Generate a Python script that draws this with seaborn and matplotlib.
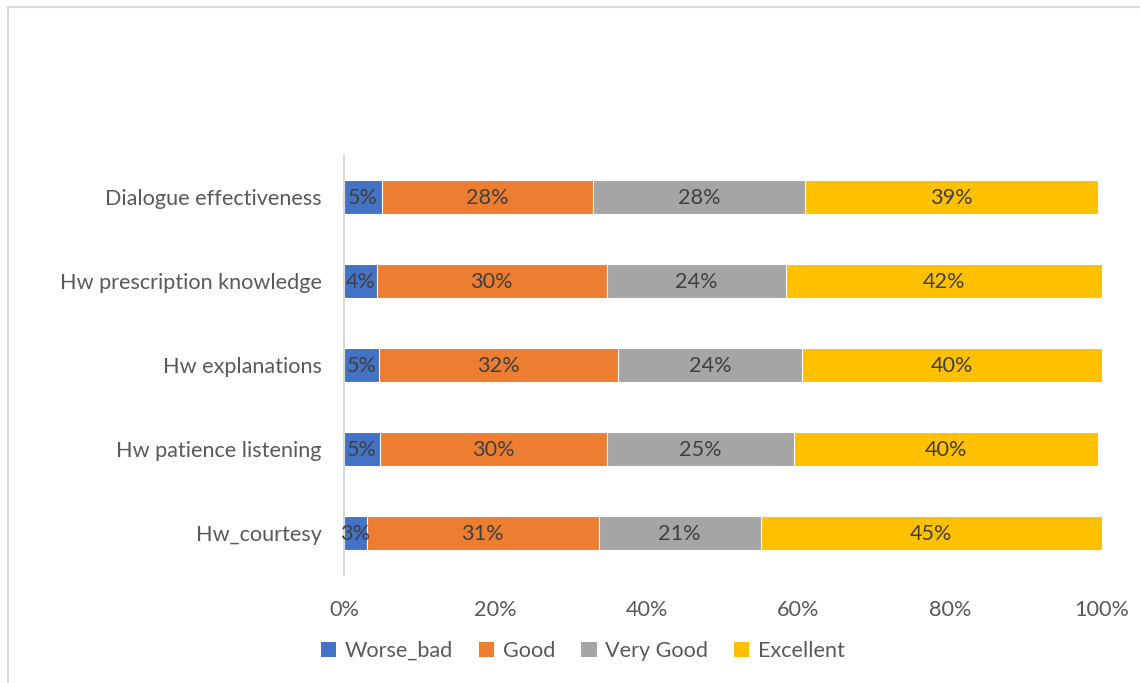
import numpy as np
import pandas as pd
import matplotlib
matplotlib.use("Agg")
import matplotlib.pyplot as plt
from matplotlib.patches import Patch
from matplotlib.lines import Line2D
import seaborn as sns

categories = ["Dialogue effectiveness", "Hw prescription knowledge", "Hw explanations",
              "Hw patience listening", "Hw_courtesy"]
ratings = ["Worse_bad", "Good", "Very Good", "Excellent"]
worse_bad = [0.050, 0.043, 0.046, 0.047, 0.030]
good = [0.279, 0.304, 0.316, 0.300, 0.306]
very_good = [0.280, 0.236, 0.242, 0.247, 0.214]
excellent = [0.386, 0.417, 0.396, 0.401, 0.450]
x_ticks = [0, 0.2, 0.4, 0.6, 0.8, 1.0]

colors = {"Worse_bad": "#4472C4", "Good": "#ED7D31", "Very Good": "#A5A5A5", "Excellent": "#FFC000"}

sns.set_theme(style="white")
plt.rcParams["font.family"] = ["Lato", "DejaVu Sans"]
FS = 15.6

series = {"Worse_bad": worse_bad, "Good": good, "Very Good": very_good, "Excellent": excellent}
rows = []
for i, cat in enumerate(categories):
    start = 0.0
    for r in ratings:
        v = series[r][i]
        rows.append({"category": cat, "rating": r, "value": v,
                     "start": start, "cum": start + v})
        start += v
df = pd.DataFrame(rows)

fig = plt.figure(figsize=(11.4, 6.83), dpi=100)
ax = fig.add_axes([344 / 1140, 1 - 575 / 683, (1101.5 - 344) / 1140, 420 / 683])

# stacked bars: cumulative totals drawn largest first, each covered by the next
sns.barplot(data=df, x="cum", y="category", hue="rating", hue_order=ratings[::-1],
            order=categories, palette=colors, saturation=1, dodge=False, orient="h",
            width=0.4, linewidth=0.8, edgecolor="white", legend=False, ax=ax)

for _, row in df.iterrows():
    yi = categories.index(row["category"])
    ax.text(row["start"] + row["value"] / 2, yi + 0.01, f"{row['value'] * 100:.0f}%",
            ha="center", va="center", fontsize=FS, color="#404040")

ax.set_xlim(0, 1.0)
ax.set_ylim(4.5, -0.5)
ax.set_xticks(x_ticks)
ax.set_xticklabels([f"{t * 100:.0f}%" for t in x_ticks])
ax.set_xlabel("")
ax.set_ylabel("")
ax.tick_params(axis="x", length=0, pad=18, labelsize=FS, labelcolor="#595959")
ax.tick_params(axis="y", length=0, pad=16, labelsize=FS, labelcolor="#595959")
for s in ["top", "right", "bottom"]:
    ax.spines[s].set_visible(False)
ax.spines["left"].set_color("#D9D9D9")
ax.spines["left"].set_linewidth(1.5)
ax.grid(False)

handles = [Patch(facecolor=colors[r], edgecolor="none") for r in ratings]
fig.legend(handles, ratings, loc="center", bbox_to_anchor=(583 / 1140, 1 - 651 / 683),
           ncol=4, frameon=False, fontsize=FS, handlelength=0.7, handleheight=0.7,
           handletextpad=0.4, columnspacing=1.2, labelcolor="#595959")

# chart area border
fig.add_artist(Line2D([7.5 / 1140, 7.5 / 1140], [0, 1 - 6.5 / 683], color="#D9D9D9", lw=1.5,
                      transform=fig.transFigure))
fig.add_artist(Line2D([7.5 / 1140, 1], [1 - 6.5 / 683, 1 - 6.5 / 683], color="#D9D9D9", lw=1.5,
                      transform=fig.transFigure))

fig.savefig("out.png", dpi=100)
